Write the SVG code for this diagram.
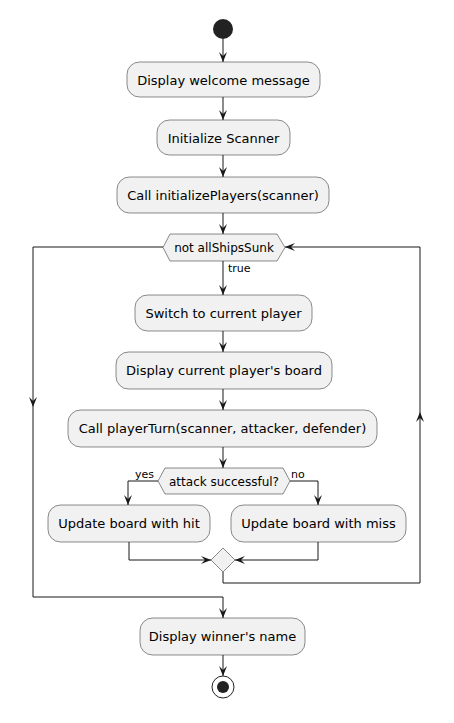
<svg xmlns="http://www.w3.org/2000/svg" width="454" height="723" viewBox="0 0 454 723">
<style>
.box{fill:#F1F1F1;stroke:#181818;stroke-width:0.5}
.t{font-family:"DejaVu Sans",sans-serif;font-size:13px;fill:#000;text-anchor:middle}
.h{font-family:"DejaVu Sans",sans-serif;font-size:12px;fill:#000;text-anchor:middle}
.l{font-family:"DejaVu Sans",sans-serif;font-size:11px;fill:#000}
.c{fill:none;stroke:#181818;stroke-width:1}
</style>
<defs>
<marker id="a" markerUnits="userSpaceOnUse" markerWidth="12" markerHeight="10" refX="10" refY="4" orient="auto" overflow="visible">
<path d="M0,0 L10,4 L0,8 L4,4 Z" fill="#181818"/>
</marker>
</defs>
<rect width="454" height="723" fill="#FFFFFF"/>
<g id="connectors">
<path class="c" d="M223,39 V62" marker-end="url(#a)"/>
<path class="c" d="M223,97 V120" marker-end="url(#a)"/>
<path class="c" d="M223,155 V177" marker-end="url(#a)"/>
<path class="c" d="M223,213 V234" marker-end="url(#a)"/>
<path class="c" d="M223,261 V295" marker-end="url(#a)"/>
<text class="l" x="228" y="272">true</text>
<path class="c" d="M223,331 V352" marker-end="url(#a)"/>
<path class="c" d="M223,389 V410" marker-end="url(#a)"/>
<path class="c" d="M223,447 V468" marker-end="url(#a)"/>
<path class="c" d="M158,481 H128 V505" marker-end="url(#a)"/>
<text class="l" x="135" y="478">yes</text>
<path class="c" d="M290,481 H318 V505" marker-end="url(#a)"/>
<text class="l" x="291" y="478">no</text>
<path class="c" d="M129,542 V560 H211" marker-end="url(#a)"/>
<path class="c" d="M318,542 V560 H235" marker-end="url(#a)"/>
<path class="c" d="M223,572 V583 H420 V412" marker-end="url(#a)"/>
<path class="c" d="M420,412 V247 H285" marker-end="url(#a)"/>
<path class="c" d="M163,247 H33 V407" marker-end="url(#a)"/>
<path class="c" d="M33,407 V597 H223 V618" marker-end="url(#a)"/>
<path class="c" d="M223,655 V676" marker-end="url(#a)"/>
</g>
<g id="start"><circle cx="223" cy="29" r="10" fill="#222222"/></g>
<g id="n1"><rect class="box" x="127" y="62" width="193" height="35" rx="12.5"/><text class="t" x="223.5" y="84.5">Display welcome message</text></g>
<g id="n2"><rect class="box" x="157" y="120" width="133" height="35" rx="12.5"/><text class="t" x="223.5" y="142.5">Initialize Scanner</text></g>
<g id="n3"><rect class="box" x="117" y="177" width="212" height="36" rx="12.5"/><text class="t" x="223" y="199.5">Call initializePlayers(scanner)</text></g>
<g id="loop"><polygon class="box" points="163,247.5 170,234 277,234 285,247.5 277,261 170,261"/><text class="h" x="224" y="252">not allShipsSunk</text></g>
<g id="n4"><rect class="box" x="135" y="295" width="177" height="36" rx="12.5"/><text class="t" x="223.5" y="317.5">Switch to current player</text></g>
<g id="n5"><rect class="box" x="116" y="352" width="216" height="37" rx="12.5"/><text class="t" x="224" y="375">Display current player's board</text></g>
<g id="n6"><rect class="box" x="68" y="410" width="309" height="37" rx="12.5"/><text class="t" x="222.5" y="433">Call playerTurn(scanner, attacker, defender)</text></g>
<g id="if"><polygon class="box" points="158,481 165,468 283,468 290,481 283,494 165,494"/><text class="h" x="224" y="485.5">attack successful?</text></g>
<g id="n7"><rect class="box" x="48" y="505" width="162" height="37" rx="12.5"/><text class="t" x="129" y="528">Update board with hit</text></g>
<g id="n8"><rect class="box" x="231" y="505" width="175" height="37" rx="12.5"/><text class="t" x="318.5" y="528">Update board with miss</text></g>
<g id="merge"><polygon class="box" points="223,548 235,560 223,572 211,560"/></g>
<g id="n9"><rect class="box" x="140" y="618" width="165" height="37" rx="12.5"/><text class="t" x="222.5" y="641">Display winner's name</text></g>
<g id="end"><circle cx="223" cy="687" r="11" fill="none" stroke="#222222" stroke-width="1"/><circle cx="223" cy="687" r="6" fill="#222222"/></g>
</svg>
